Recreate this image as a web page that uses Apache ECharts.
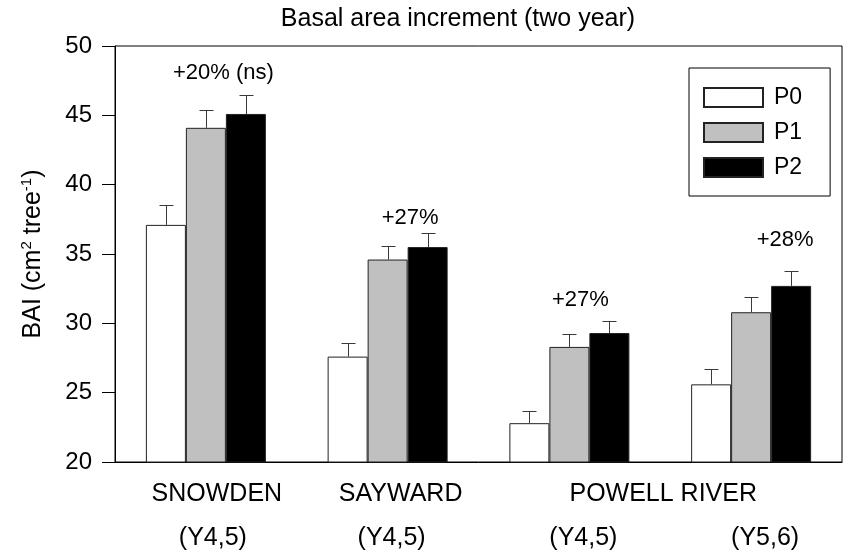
<!DOCTYPE html>
<html>
<head>
<meta charset="utf-8">
<script src="https://cdn.jsdelivr.net/npm/echarts@6/dist/echarts.min.js"></script>
<style>
  html, body { margin: 0; padding: 0; background: #fff; }
  #chart { width: 846px; height: 556px; }
</style>
</head>
<body>
<div id="chart"></div>
<script>
// Site / measurement-period categories
const categories = ['SNOWDEN (Y4,5)', 'SAYWARD (Y4,5)', 'POWELL RIVER (Y4,5)', 'POWELL RIVER (Y5,6)'];
const yearLabels = ['(Y4,5)', '(Y4,5)', '(Y4,5)', '(Y5,6)'];
// Site names: first and last category each name spans
const siteLabels = [
  { text: 'SNOWDEN', from: 0, to: 0 },
  { text: 'SAYWARD', from: 1, to: 1 },
  { text: 'POWELL RIVER', from: 2, to: 3 }
];

// Two-year basal area increment (cm2 tree-1) and standard errors
const p0 = [37.1, 27.6, 22.8, 25.6];
const p0Err = [1.45, 1.0, 0.9, 1.1];
const p1 = [44.1, 34.6, 28.3, 30.8];
const p1Err = [1.3, 1.0, 0.9, 1.1];
const p2 = [45.1, 35.5, 29.3, 32.7];
const p2Err = [1.4, 1.0, 0.9, 1.1];

// Response notes above each group (text and height in axis units)
const notes = ['+20% (ns)', '+27%', '+27%', '+28%'];
const noteY = [48.05, 37.6, 31.7, 36.0];

// Y axis
const yMin = 20, yMax = 50, yStep = 5;

const FONT = "'Liberation Sans', Arial, Helvetica, sans-serif";
const BAR_W = 40;

function errorBars(name, values, errs, offset) {
  return {
    name: name + ' SE',
    type: 'custom',
    z: 5,
    silent: true,
    encode: { x: 0, y: [1, 2] },
    data: values.map((v, i) => [i, v, v + errs[i]]),
    renderItem(params, api) {
      const base = api.coord([api.value(0), api.value(1)]);
      const top = api.coord([api.value(0), api.value(2)]);
      const x = Math.round(base[0] + offset) + 0.5;
      const yb = base[1], yt = Math.round(top[1]) + 0.5;
      return {
        type: 'group',
        children: [
          { type: 'line', shape: { x1: x, y1: yb, x2: x, y2: yt }, style: { stroke: '#3a3a3a', lineWidth: 1 } },
          { type: 'line', shape: { x1: x - 7, y1: yt, x2: x + 7, y2: yt }, style: { stroke: '#3a3a3a', lineWidth: 1 } }
        ]
      };
    }
  };
}

function barSeries(name, values, fill) {
  return {
    name: name,
    type: 'bar',
    data: values,
    barWidth: BAR_W,
    barGap: '0%',
    z: 3,
    itemStyle: { color: fill, borderColor: '#222', borderWidth: 1 }
  };
}

const option = {
  animation: false,
  backgroundColor: '#fff',
  textStyle: { fontFamily: FONT, color: '#000' },
  grid: {
    left: 115, right: 4, top: 46, bottom: 94,
    show: true, borderColor: '#000', borderWidth: 1, backgroundColor: 'transparent'
  },
  legend: {
    data: ['P0', 'P1', 'P2'],
    orient: 'vertical',
    left: 689, top: 68,
    icon: 'rect',
    itemWidth: 59, itemHeight: 19, itemGap: 12,
    padding: [18, 28, 17, 14],
    borderColor: '#000', borderWidth: 1,
    textStyle: { fontFamily: FONT, fontSize: 23, color: '#000', lineHeight: 19, padding: [0, 0, 0, 6] }
  },
  xAxis: {
    type: 'category',
    data: categories,
    axisLine: { lineStyle: { color: '#000', width: 1 } },
    axisTick: { alignWithLabel: true, length: 13, lineStyle: { color: '#000' } },
    axisLabel: { show: false },
    splitLine: { show: false }
  },
  yAxis: {
    type: 'value',
    min: yMin, max: yMax, interval: yStep,
    axisLine: { show: true, lineStyle: { color: '#000', width: 1 } },
    axisTick: { show: true, length: 13, lineStyle: { color: '#000' } },
    axisLabel: { fontFamily: FONT, fontSize: 24, color: '#000', margin: 23 },
    splitLine: { show: false },
    name: '{m|BAI (cm}{s|2}{m| tree}{s|-1}{m|)}',
    nameLocation: 'middle',
    nameGap: 68,
    nameRotate: 90,
    nameTextStyle: {
      rich: {
        m: { fontFamily: FONT, fontSize: 25, color: '#000', lineHeight: 28 },
        s: { fontFamily: FONT, fontSize: 15, color: '#000', verticalAlign: 'top', lineHeight: 28 }
      }
    }
  },
  series: [
    barSeries('P0', p0, '#ffffff'),
    barSeries('P1', p1, '#c0c0c0'),
    barSeries('P2', p2, '#000000'),
    errorBars('P0', p0, p0Err, -BAR_W),
    errorBars('P1', p1, p1Err, 0),
    errorBars('P2', p2, p2Err, BAR_W)
  ]
};

const chart = echarts.init(document.getElementById('chart'), null, { renderer: 'canvas' });
chart.setOption(option);

// Text placed from the axis scales
const catX = i => chart.convertToPixel({ xAxisIndex: 0 }, categories[i]);
const valY = v => chart.convertToPixel({ yAxisIndex: 0 }, v);

const nameDx = [11, 13, 3];
const yearDx = [7, 4, 14, 14];
const noteDx = [17.5, 22.5, 11, 34];

const graphics = [];
graphics.push({
  type: 'text', x: 458, y: 19,
  style: { text: 'Basal area increment (two year)', font: '25px ' + FONT, fill: '#000', textAlign: 'center', textVerticalAlign: 'middle' }
});
siteLabels.forEach((s, k) => {
  const x = (catX(s.from) + catX(s.to)) / 2 + nameDx[k];
  graphics.push({
    type: 'text', x: x, y: 494,
    style: { text: s.text, font: '25px ' + FONT, fill: '#000', textAlign: 'center', textVerticalAlign: 'middle' }
  });
});
yearLabels.forEach((t, i) => {
  graphics.push({
    type: 'text', x: catX(i) + yearDx[i], y: 538,
    style: { text: t, font: '25px ' + FONT, fill: '#000', textAlign: 'center', textVerticalAlign: 'middle' }
  });
});
notes.forEach((t, i) => {
  graphics.push({
    type: 'text', x: catX(i) + noteDx[i], y: valY(noteY[i]),
    style: { text: t, font: '22px ' + FONT, fill: '#000', textAlign: 'center', textVerticalAlign: 'middle' }
  });
});
chart.setOption({ graphic: graphics });
</script>
</body>
</html>
